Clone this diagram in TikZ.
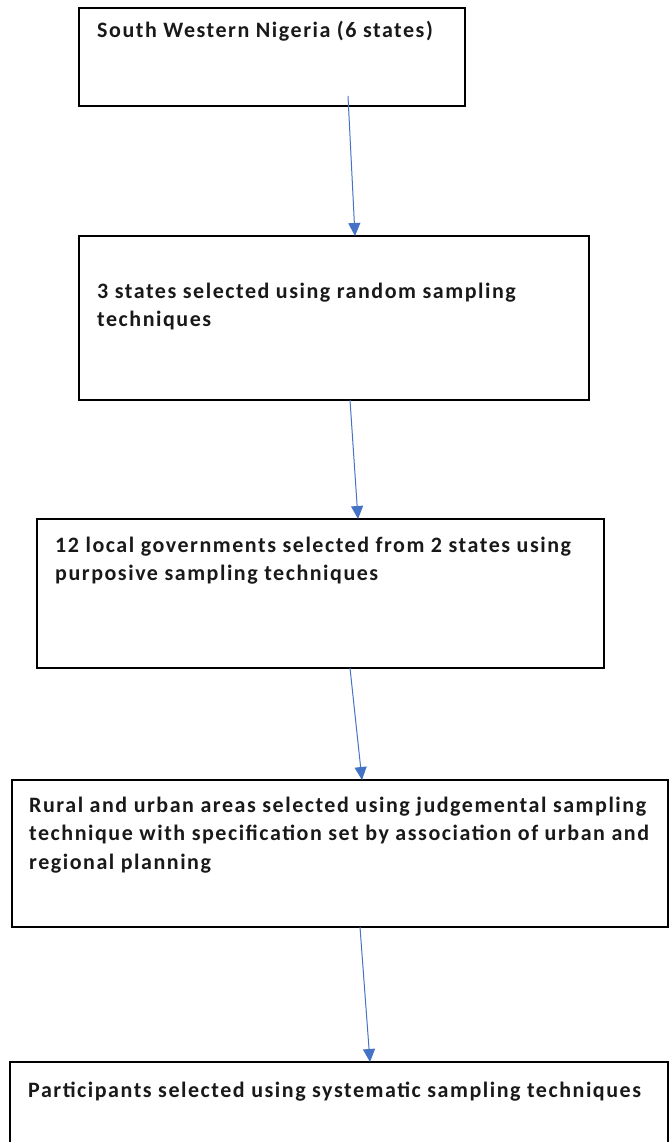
\documentclass[tikz,border=0pt]{standalone}
\usepackage{fontspec}
\setmainfont{Carlito}
\newfontfamily\boxfont[LetterSpace=7]{Carlito}
\usetikzlibrary{arrows.meta}
\definecolor{arrblue}{RGB}{68,114,196}

\begin{document}
\begin{tikzpicture}[x=1pt,y=-1pt,mybox/.style={rectangle, draw, line width=1.6pt, anchor=north west, inner sep=0pt, outer sep=0pt},mytxt/.style={anchor=base west, inner sep=0pt, text=black!90, font=\boxfont\bfseries\fontsize{22}{28.5}\selectfont},myarr/.style={draw=arrblue, line width=1pt, -{Triangle[length=13pt,width=12pt]}}]
  \clip (0,0) rectangle (669,1142);

  \node[mybox, minimum width=386pt, minimum height=98pt] (nig) at (79,8) {};
  \node[mybox, minimum width=510pt, minimum height=164pt] (states) at (79,236) {};
  \node[mybox, minimum width=567pt, minimum height=149pt] (lga) at (37,519) {};
  \node[mybox, minimum width=656pt, minimum height=147pt] (area) at (12,780) {};
  \node[mybox, minimum width=658pt, minimum height=130pt] (part) at (10,1062) {};

  \node[mytxt] (nigt) at (97,38) {South Western Nigeria (6 states)};
  \node[mytxt] (statest) at (97,298) {\begin{tabular}[t]{@{}l@{}}3 states selected using random sampling\\techniques\end{tabular}};
  \node[mytxt] (lgat) at (55,552) {\begin{tabular}[t]{@{}l@{}}12 local governments selected from 2 states using\\purposive sampling techniques\end{tabular}};
  \node[mytxt] (areat) at (29,812) {\begin{tabular}[t]{@{}l@{}}Rural and urban areas selected using judgemental sampling\\technique with specification set by association of urban and\\regional planning\end{tabular}};
  \node[mytxt] (partt) at (28,1097) {Participants selected using systematic sampling techniques};

  \coordinate (s1) at (348,96);
  \draw[myarr] (s1) -- ([xshift=276pt]states.north west);
  \draw[myarr] ([xshift=271pt]states.south west) -- ([xshift=321pt]lga.north west);
  \draw[myarr] ([xshift=313pt]lga.south west) -- ([xshift=350pt]area.north west);
  \draw[myarr] ([xshift=348pt]area.south west) -- ([xshift=360pt]part.north west);

\end{tikzpicture}
\end{document}
